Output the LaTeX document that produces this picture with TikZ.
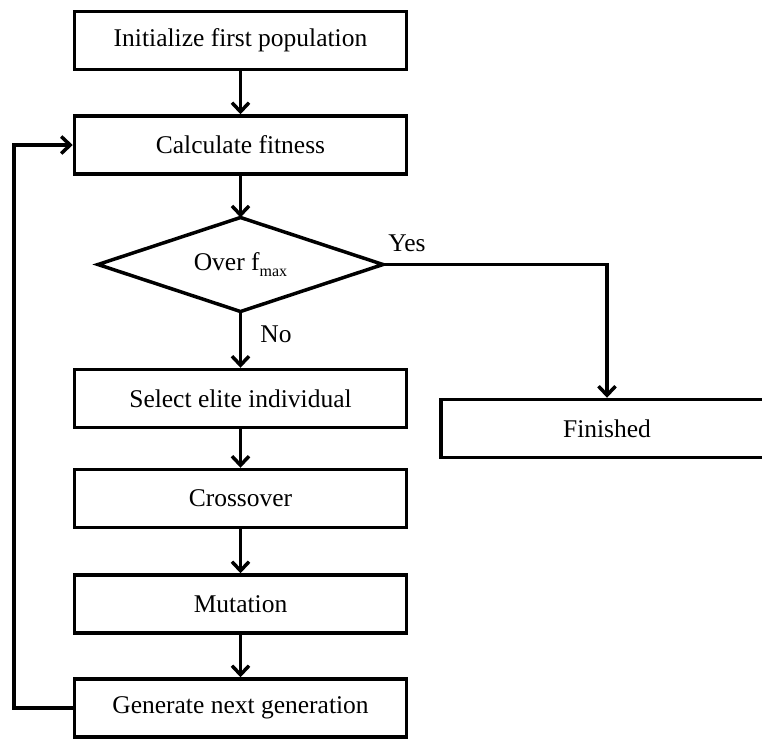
\documentclass[tikz,border=0pt]{standalone}
\usepackage{fontspec}
\setmainfont{Liberation Serif}
\usetikzlibrary{arrows.meta,shapes.geometric}
\tikzset{
	stepbox/.style={draw, line width=3.5pt, minimum width=332pt, minimum height=58pt, inner sep=0pt, font=\fontsize{25.5pt}{30pt}\selectfont},
	testbox/.style={draw, diamond, line width=3.5pt, minimum width=285pt, minimum height=94pt, inner sep=0pt, outer sep=0pt, aspect=3, font=\fontsize{25.5pt}{30pt}\selectfont},
	flow/.style={line width=3.5pt, -{Straight Barb[length=9pt,width=17pt,line width=3.5pt]}},
	answer/.style={font=\fontsize{25.5pt}{30pt}\selectfont}
}
\newcommand{\lowsub}[1]{\raisebox{-0.5ex}{\fontsize{16pt}{16pt}\selectfont #1}}

\begin{document}
\begin{tikzpicture}[x=1pt, y=-1pt]
			%%%%% START %%%%%
			
			\useasboundingbox (0, 0) rectangle (762, 740);
			
			\node[stepbox] (init) at (240.5, 40.5) {Initialize first population};
			\node[stepbox] (fitness) at (240.5, 145) {Calculate fitness};
			\node[testbox] (over) at (240.5, 264.5) {Over f\lowsub{max}};
			\node[stepbox] (elite) at (240.5, 398.5) {Select elite individual};
			\node[stepbox] (cross) at (240.5, 498.5) {Crossover};
			\node[stepbox] (mutate) at (240.5, 604) {Mutation};
			\node[stepbox] (nextgen) at (240.5, 708) {Generate next generation};
			\node[stepbox] (done) at (607, 428.5) {Finished};
			
			\draw[flow] (init) -- (fitness);
			\draw[flow] (fitness) -- (over);
			\draw[flow] (over.south) -- (elite.north);
			\draw[flow] (elite) -- (cross);
			\draw[flow] (cross) -- (mutate);
			\draw[flow] (mutate) -- (nextgen);
			
			\draw[flow] (over.east) -| (done.north);
			\draw[flow] (nextgen.west) -- ++(-59, 0) |- (fitness.west);
			
			\node[answer] (yes) at (407, 243) {Yes};
			\node[answer] (no) at (276, 334) {No};
			
			%%%%% END %%%%%
		\end{tikzpicture}
\end{document}
